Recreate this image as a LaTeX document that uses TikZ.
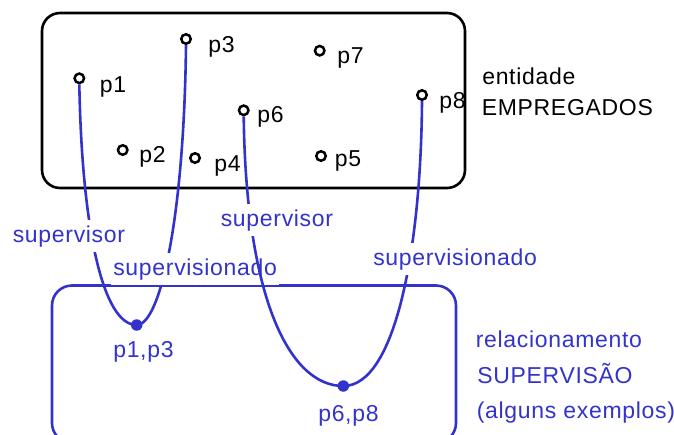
\documentclass[tikz,border=0pt]{standalone}
\usepackage{fontspec}
\setmainfont{Liberation Sans}[LetterSpace=3]
\definecolor{azul}{RGB}{51,51,204}

\begin{document}
\begin{tikzpicture}[x=1pt, y=-1pt, line width=2.6pt,
  every node/.style={font=\fontsize{23}{27}\selectfont, inner sep=1pt},
  ponto/.style={circle, draw=black, fill=white, line width=2.5pt, minimum size=9.5pt, inner sep=0pt},
  elo/.style={circle, fill=azul, minimum size=11.5pt, inner sep=0pt},
  nome/.style={anchor=base west},
  papel/.style={anchor=base west, text=azul, fill=white, inner xsep=2pt, inner ysep=5pt}]
\useasboundingbox (0,0) rectangle (674,434);
\clip (0,0) rectangle (674,434);
% \draw[help lines, step=50pt] (0,0) grid (674,434);
%%%%%%%%%%%%%%%%%%%%%%%%%%%%%%% entidade EMPREGADOS
\draw[rounded corners=18pt] (42,13) rectangle (465,188);
\node[nome](lEnt) at (480,84){entidade};
\node[nome](lEmp) at (479.5,115){EMPREGADOS};

\node[ponto](p1) at (79.3,78.3){};
\node[nome](lp1) at (97.5,92){p1};
\node[ponto](p2) at (122.7,150){};
\node[nome](lp2) at (137,162.5){p2};
\node[ponto](p3) at (186,39){};
\node[nome](lp3) at (206,52){p3};
\node[ponto](p4) at (195,158){};
\node[nome](lp4) at (212,171){p4};
\node[ponto](p5) at (321,156){};
\node[nome](lp5) at (332.5,166.5){p5};
\node[ponto](p6) at (243.7,110.3){};
\node[nome](lp6) at (255,122.5){p6};
\node[ponto](p7) at (319.7,50.7){};
\node[nome](lp7) at (335,63.5){p7};
\node[ponto](p8) at (422,95){};
\node[nome](lp8) at (437,108.5){p8};

%%%%%%%%%%%%%%%%%%%%%%%%%%%%%%% relacionamento SUPERVISAO
\draw[azul, rounded corners=20pt] (52,285.5) rectangle (456,443);
\node[nome, text=azul](lRel) at (473.5,347){relacionamento};
\node[nome, text=azul](lSup) at (475,383){SUPERVISÃO};
\node[nome, text=azul](lEx) at (474.5,418.5){(alguns exemplos)};

\node[elo](s13) at (136.7,325){};
\node[nome, text=azul](ls13) at (111,357){p1,p3};
\node[elo](s68) at (343.3,386){};
\node[nome, text=azul](ls68) at (316,421){p6,p8};

% p1 supervisiona p3
\draw[azul] (p1.south) .. controls (82,230) and (103,325) .. (s13.center)
  .. controls (160,325) and (184,220) .. (p3.south);
\node[papel](sup13) at (9.5,242){supervisor};
\node[papel](sdo13) at (110,275){supervisionado};

% p6 supervisiona p8
\draw[azul] (p6.south) .. controls (246,300) and (290,386) .. (s68.center)
  .. controls (395,386) and (421,250) .. (p8.south);
\node[papel](sup68) at (217.5,226){supervisor};
\node[papel](sdo68) at (370,265){supervisionado};

\end{tikzpicture}
\end{document}
